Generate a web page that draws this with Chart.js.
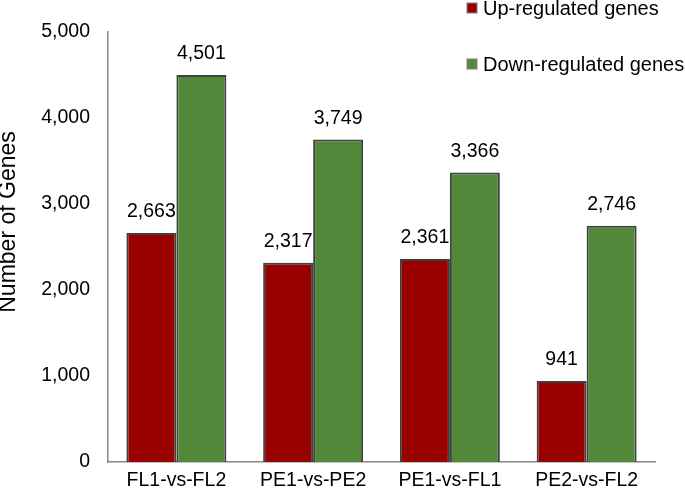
<!DOCTYPE html>
<html>
<head>
<meta charset="utf-8">
<script src="https://cdn.jsdelivr.net/npm/chart.js@4"></script>
<style>
  html, body { margin: 0; padding: 0; background: #fff; }
  #wrap { width: 685px; height: 493px; position: relative; }
</style>
</head>
<body>
<div id="wrap"><canvas id="chart"></canvas></div>
<script>
const categories = ['FL1-vs-FL2', 'PE1-vs-PE2', 'PE1-vs-FL1', 'PE2-vs-FL2'];
const upRegulated = [2663, 2317, 2361, 941];
const downRegulated = [4501, 3749, 3366, 2746];
const yTicks = [0, 1000, 2000, 3000, 4000, 5000];
const yTitle = 'Number of Genes';

const FONT = '"Liberation Sans", Arial, sans-serif';
const fmt = v => v.toLocaleString('en-US');

// value labels above each bar
const valueLabels = {
    id: 'valueLabels',
    afterDatasetsDraw(chart) {
        const ctx = chart.ctx;
        ctx.save();
        ctx.font = '19.5px ' + FONT;
        ctx.fillStyle = '#000';
        ctx.textAlign = 'center';
        ctx.textBaseline = 'middle';
        chart.data.datasets.forEach((ds, i) => {
            chart.getDatasetMeta(i).data.forEach((bar, j) => {
                ctx.fillText(fmt(ds.data[j]), bar.x, bar.y - 21);
            });
        });
        ctx.restore();
    }
};

// legend stacked in the top right corner, plus the y axis title (sits a bit above centre)
const extras = {
    id: 'extras',
    afterDraw(chart) {
        const ctx = chart.ctx;
        const rows = [8, 64];
        ctx.save();
        ctx.font = '20px ' + FONT;
        ctx.textBaseline = 'middle';
        chart.data.datasets.forEach((ds, i) => {
            const y = rows[i];
            ctx.fillStyle = ds.backgroundColor;
            ctx.fillRect(467, y - 5, 10, 10);
            ctx.strokeStyle = '#808080';
            ctx.lineWidth = 1;
            ctx.strokeRect(467, y - 5, 10, 10);
            ctx.fillStyle = '#000';
            ctx.fillText(ds.label, 483, y + 1);
        });
        ctx.restore();

        ctx.save();
        ctx.translate(9, 222);
        ctx.rotate(-Math.PI / 2);
        ctx.font = '23px ' + FONT;
        ctx.fillStyle = '#000';
        ctx.textAlign = 'center';
        ctx.textBaseline = 'middle';
        ctx.fillText(yTitle, 0, 0);
        ctx.restore();
    }
};

new Chart(document.getElementById('chart'), {
    type: 'bar',
    data: {
        labels: categories,
        datasets: [
            {
                label: 'Up-regulated genes',
                data: upRegulated,
                backgroundColor: '#990000',
                borderColor: '#404040',
                borderWidth: 2
            },
            {
                label: 'Down-regulated genes',
                data: downRegulated,
                backgroundColor: '#52883A',
                borderColor: '#404040',
                borderWidth: 2
            }
        ]
    },
    options: {
        responsive: true,
        maintainAspectRatio: false,
        animation: false,
        layout: { padding: { top: 32, right: 30, left: 0, bottom: 0 } },
        datasets: {
            bar: { categoryPercentage: 0.731, barPercentage: 1 }
        },
        plugins: {
            legend: { display: false },
            tooltip: { enabled: false }
        },
        scales: {
            x: {
                grid: { display: false, drawTicks: false },
                border: { display: true, color: '#888', width: 1.5 },
                ticks: { color: '#000', font: { family: FONT, size: 19.5 }, padding: 7, maxRotation: 0 },
                afterFit: s => { s.height = 31; }
            },
            y: {
                min: 0,
                max: 5000,
                afterBuildTicks: s => { s.ticks = yTicks.map(v => ({ value: v })); },
                grid: { display: false, drawTicks: false },
                border: { display: true, color: '#888', width: 1.5 },
                ticks: { color: '#000', font: { family: FONT, size: 19.5 }, padding: 18, callback: v => fmt(v) },
                afterFit: s => { s.width = 108; }
            }
        }
    },
    plugins: [valueLabels, extras]
});
</script>
</body>
</html>
